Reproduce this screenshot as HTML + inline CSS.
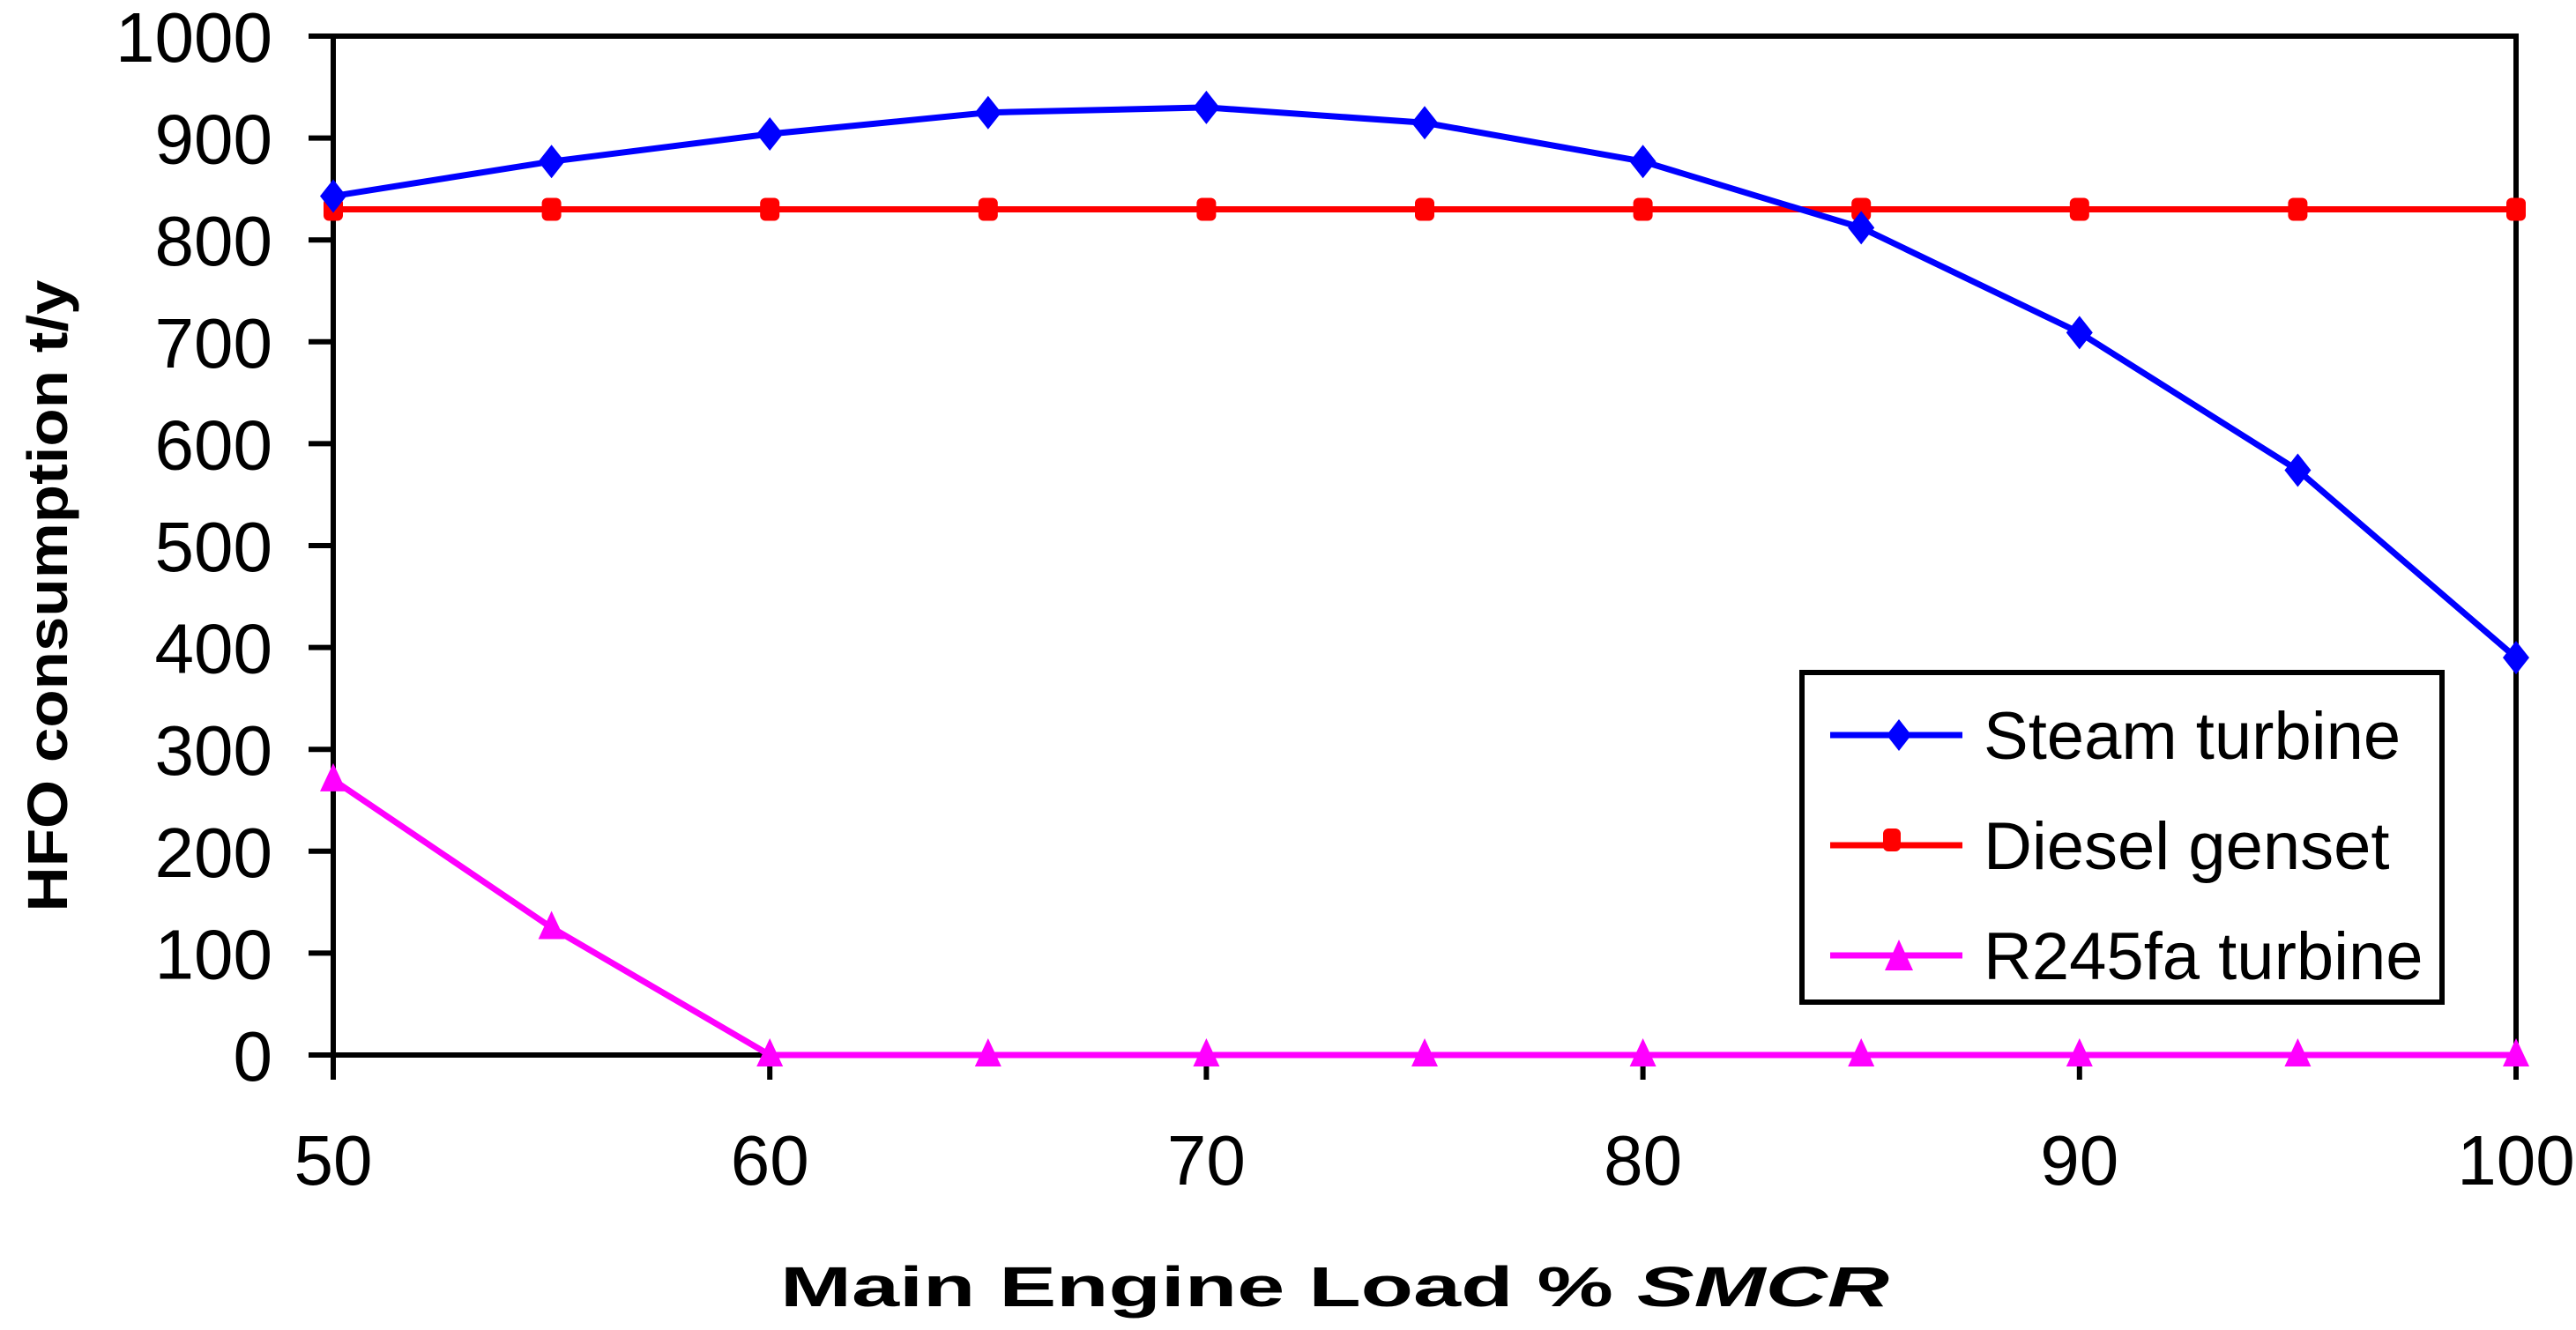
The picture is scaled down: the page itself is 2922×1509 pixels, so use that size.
<!DOCTYPE html>
<html><head><meta charset="utf-8"><style>
html,body{margin:0;padding:0;background:#fff}
svg{display:block}
text{font-family:"Liberation Sans",Arial,sans-serif}
</style></head><body>
<svg id="chart" width="2922" height="1509" viewBox="0 0 2922 1509" xmlns="http://www.w3.org/2000/svg">
<g id="axes"></g>
<g id="series"></g>
<g>
<rect x="2044" y="763" width="726" height="374" fill="#fff" stroke="#000" stroke-width="6"/>
<g>
<line x1="2076" y1="834" x2="2226" y2="834" stroke="#0000ff" stroke-width="7"/>
<polygon points="2154,816 2168,834 2154,852 2140,834" fill="#0000ff"/>
<text x="2250" y="861" font-size="76">Steam turbine</text></g>
<g>
<line x1="2076" y1="959" x2="2226" y2="959" stroke="#ff0000" stroke-width="7"/>
<rect x="2136" y="940" width="20" height="26" rx="6" fill="#ff0000"/>
<text x="2250" y="986" font-size="76">Diesel genset</text></g>
<g>
<line x1="2076" y1="1084" x2="2226" y2="1084" stroke="#ff00ff" stroke-width="7"/>
<polygon points="2154,1066 2170,1101 2138,1101" fill="#ff00ff"/>
<text x="2250" y="1111" font-size="76">R245fa turbine</text></g>
</g>
<text transform="translate(76,676) rotate(-90)" text-anchor="middle" font-size="64" font-weight="bold" textLength="717" lengthAdjust="spacingAndGlyphs">HFO consumption t/y</text>
<text x="1514" y="1482" text-anchor="middle" font-size="64" font-weight="bold" textLength="1258" lengthAdjust="spacingAndGlyphs">Main Engine Load % <tspan font-style="italic">SMCR</tspan></text>
</svg>
<script>
const loads = [50,55,60,65,70,75,80,85,90,95,100];
const steamTurbine = [843,877,904,925,930,915,877,812,709,574,390];
const dieselGenset = [830,830,830,830,830,830,830,830,830,830,830];
const r245faTurbine = [270,125,0,0,0,0,0,0,0,0,0];
const yTicks = [0,100,200,300,400,500,600,700,800,900,1000];
const xTicks = [50,60,70,80,90,100];

const L=378,R=2854,T=41,B=1197;
const xs=v=>L+(v-50)/(100-50)*(R-L);
const ys=v=>B-(v/1000)*(B-T);
const NS='http://www.w3.org/2000/svg';
function mk(tag,attrs,parent){const e=document.createElementNS(NS,tag);for(const k in attrs)e.setAttribute(k,attrs[k]);parent.appendChild(e);return e;}
const ax=document.getElementById('axes');
const frame=mk('rect',{x:L,y:T,width:R-L,height:B-T,fill:'none',stroke:'#000','stroke-width':6},ax);


yTicks.forEach(v=>{
  const t=mk('line',{x1:L-28,x2:L,y1:ys(v),y2:ys(v),stroke:'#000','stroke-width':6},ax);
  
  
  const l=mk('text',{x:309,y:ys(v)+29,'text-anchor':'end','font-size':80},ax);
  
  
  l.textContent=v;
});
xTicks.forEach(v=>{
  const t=mk('line',{x1:xs(v),x2:xs(v),y1:B,y2:B+28,stroke:'#000','stroke-width':6},ax);
  
  
  const l=mk('text',{x:xs(v),y:1344,'text-anchor':'middle','font-size':80},ax);
  
  
  l.textContent=v;
});
const sg=document.getElementById('series');
function series(name,vals,color,marker){
  const g=mk('g',{},sg);
  
  
  const pts=vals.map((v,i)=>xs(loads[i])+','+ys(v)).join(' ');
  mk('polyline',{points:pts,fill:'none',stroke:color,'stroke-width':7},g);
  vals.forEach((v,i)=>{
    const x=xs(loads[i]),y=ys(v);let m;
    if(marker==='d')m=mk('polygon',{points:`${x},${y-19} ${x+15},${y} ${x},${y+19} ${x-15},${y}`,fill:color},g);
    else if(marker==='s')m=mk('rect',{x:x-11,y:y-13,width:22,height:26,rx:6,fill:color},g);
    else m=mk('polygon',{points:`${x},${y-19} ${x+15},${y+13} ${x-15},${y+13}`,fill:color},g);
    
    
  });
}
series('series-diesel-genset',dieselGenset,'#ff0000','s');
series('series-steam-turbine',steamTurbine,'#0000ff','d');
series('series-r245fa-turbine',r245faTurbine,'#ff00ff','t');
</script>
</body></html>
